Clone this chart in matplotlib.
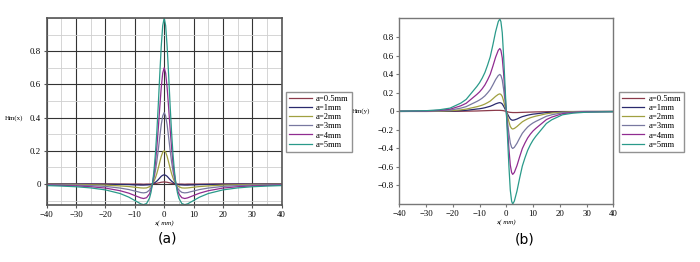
import numpy as np
import matplotlib
matplotlib.use('Agg')
import matplotlib.pyplot as plt
from matplotlib.ticker import MultipleLocator

plt.rcParams['font.family'] = 'Liberation Serif'

# Series labels and colours
labels = ['a=0.5mm', 'a=1mm', 'a=2mm', 'a=3mm', 'a=4mm', 'a=5mm']
colors = ['#8b3a4a', '#2a2a6e', '#a0a040', '#7878a0', '#902c90', '#2a9a8a']

# (a) Hm(x) sampled along x (mm)
xa = [-40, -35, -30, -25, -20, -15, -12, -10, -9, -8, -7, -6, -5, -4.5, -4, -3.5, -3, -2.5, -2, -1.5, -1, -0.5,
      0, 0.5, 1, 1.5, 2, 2.5, 3, 3.5, 4, 4.5, 5, 6, 7, 8, 9, 10, 12, 15, 20, 25, 30, 35, 40]
hx_05 = [0, 0, 0, 0, 0, -0.001, -0.001, -0.001, -0.001, -0.001, -0.002, -0.001, -0.001, -0.001, 0, 0.001, 0.002, 0.004, 0.006, 0.008, 0.010, 0.011,
         0.012, 0.011, 0.010, 0.008, 0.006, 0.004, 0.002, 0.001, 0, -0.001, -0.001, -0.001, -0.002, -0.001, -0.001, -0.001, -0.001, -0.001, 0, 0, 0, 0, 0]
hx_1 = [-0.001, -0.001, -0.001, -0.001, -0.002, -0.003, -0.004, -0.006, -0.006, -0.007, -0.007, -0.006, -0.005, -0.003, 0, 0.004, 0.010, 0.017, 0.026, 0.036, 0.046, 0.052,
        0.055, 0.052, 0.046, 0.036, 0.026, 0.017, 0.010, 0.004, 0, -0.003, -0.005, -0.006, -0.007, -0.007, -0.006, -0.006, -0.004, -0.003, -0.002, -0.001, -0.001, -0.001, -0.001]
hx_2 = [-0.002, -0.003, -0.003, -0.005, -0.007, -0.012, -0.016, -0.020, -0.022, -0.024, -0.025, -0.024, -0.017, -0.010, 0, 0.015, 0.036, 0.063, 0.096, 0.132, 0.166, 0.191,
        0.200, 0.191, 0.166, 0.132, 0.096, 0.063, 0.036, 0.015, 0, -0.010, -0.017, -0.024, -0.025, -0.024, -0.022, -0.020, -0.016, -0.012, -0.007, -0.005, -0.003, -0.003, -0.002]
hx_3 = [-0.004, -0.006, -0.007, -0.010, -0.015, -0.025, -0.034, -0.043, -0.047, -0.052, -0.054, -0.051, -0.037, -0.022, 0, 0.032, 0.077, 0.135, 0.206, 0.284, 0.357, 0.410,
        0.430, 0.410, 0.357, 0.284, 0.206, 0.135, 0.077, 0.032, 0, -0.022, -0.037, -0.051, -0.054, -0.052, -0.047, -0.043, -0.034, -0.025, -0.015, -0.010, -0.007, -0.006, -0.004]
hx_4 = [-0.007, -0.009, -0.012, -0.017, -0.025, -0.041, -0.056, -0.070, -0.077, -0.084, -0.088, -0.083, -0.060, -0.036, 0, 0.053, 0.125, 0.221, 0.336, 0.463, 0.581, 0.668,
        0.700, 0.668, 0.581, 0.463, 0.336, 0.221, 0.125, 0.053, 0, -0.036, -0.060, -0.083, -0.088, -0.084, -0.077, -0.070, -0.056, -0.041, -0.025, -0.017, -0.012, -0.009, -0.007]
hx_5 = [-0.010, -0.013, -0.017, -0.024, -0.036, -0.058, -0.080, -0.100, -0.110, -0.120, -0.125, -0.118, -0.086, -0.052, 0, 0.075, 0.179, 0.315, 0.480, 0.661, 0.830, 0.954,
        1.000, 0.954, 0.830, 0.661, 0.480, 0.315, 0.179, 0.075, 0, -0.052, -0.086, -0.118, -0.125, -0.120, -0.110, -0.100, -0.080, -0.058, -0.036, -0.024, -0.017, -0.013, -0.010]

# (b) Hm(y) sampled along x (mm)
xb = [-40, -35, -30, -25, -21, -17, -15, -13, -11, -10, -9, -8, -7, -6, -5, -4, -3, -2.4, -2, -1.5, -1, -0.5,
      0, 0.5, 1, 1.5, 2, 2.4, 3, 4, 5, 6, 7, 8, 9, 10, 11, 13, 15, 17, 21, 25, 30, 35, 40]
hy_05 = [0, 0, 0, 0.001, 0.001, 0.002, 0.003, 0.004, 0.005, 0.006, 0.007, 0.008, 0.009, 0.010, 0.011, 0.012, 0.012, 0.012, 0.011, 0.010, 0.008, 0.004,
         0, -0.004, -0.008, -0.010, -0.011, -0.012, -0.012, -0.012, -0.011, -0.010, -0.009, -0.008, -0.007, -0.006, -0.005, -0.004, -0.003, -0.002, -0.001, -0.001, 0, 0, 0]
hy_1 = [0, 0.001, 0.001, 0.002, 0.003, 0.009, 0.012, 0.019, 0.026, 0.029, 0.034, 0.040, 0.048, 0.056, 0.068, 0.082, 0.092, 0.095, 0.092, 0.081, 0.057, 0.029,
        0, -0.029, -0.057, -0.081, -0.092, -0.095, -0.092, -0.082, -0.068, -0.056, -0.048, -0.040, -0.034, -0.029, -0.026, -0.019, -0.012, -0.009, -0.003, -0.002, -0.001, -0.001, 0]
hy_2 = [0.001, 0.001, 0.002, 0.003, 0.007, 0.017, 0.025, 0.038, 0.051, 0.059, 0.068, 0.080, 0.095, 0.112, 0.137, 0.163, 0.184, 0.190, 0.184, 0.162, 0.114, 0.057,
        0, -0.057, -0.114, -0.162, -0.184, -0.190, -0.184, -0.163, -0.137, -0.112, -0.095, -0.080, -0.068, -0.059, -0.051, -0.038, -0.025, -0.017, -0.007, -0.003, -0.002, -0.001, -0.001]
hy_3 = [0.001, 0.002, 0.003, 0.007, 0.014, 0.036, 0.052, 0.080, 0.108, 0.124, 0.144, 0.168, 0.200, 0.236, 0.288, 0.344, 0.388, 0.400, 0.388, 0.340, 0.240, 0.120,
        0, -0.120, -0.240, -0.340, -0.388, -0.400, -0.388, -0.344, -0.288, -0.236, -0.200, -0.168, -0.144, -0.124, -0.108, -0.080, -0.052, -0.036, -0.014, -0.007, -0.003, -0.002, -0.001]
hy_4 = [0.002, 0.003, 0.005, 0.012, 0.024, 0.061, 0.088, 0.136, 0.184, 0.211, 0.245, 0.286, 0.340, 0.401, 0.490, 0.585, 0.660, 0.680, 0.660, 0.578, 0.408, 0.204,
        0, -0.204, -0.408, -0.578, -0.660, -0.680, -0.660, -0.585, -0.490, -0.401, -0.340, -0.286, -0.245, -0.211, -0.184, -0.136, -0.088, -0.061, -0.024, -0.012, -0.005, -0.003, -0.002]
hy_5 = [0.003, 0.005, 0.008, 0.018, 0.036, 0.090, 0.130, 0.200, 0.270, 0.310, 0.360, 0.420, 0.500, 0.590, 0.720, 0.860, 0.970, 1.000, 0.970, 0.850, 0.600, 0.300,
        0, -0.300, -0.600, -0.850, -0.970, -1.000, -0.970, -0.860, -0.720, -0.590, -0.500, -0.420, -0.360, -0.310, -0.270, -0.200, -0.130, -0.090, -0.036, -0.018, -0.008, -0.005, -0.003]

hx_all = [hx_05, hx_1, hx_2, hx_3, hx_4, hx_5]
hy_all = [hy_05, hy_1, hy_2, hy_3, hy_4, hy_5]

fig = plt.figure(figsize=(7, 2.62), dpi=100)

# ---- panel (a) ----
ax1 = fig.add_axes([0.0667, 0.2176, 0.3357, 0.7137])
for ys, c, lab in zip(hx_all, colors, labels):
    ax1.plot(xa, ys, color=c, lw=0.9, label=lab)
ax1.set_xlim(-40, 40)
ax1.set_ylim(-0.127, 1.0)
ax1.xaxis.set_major_locator(MultipleLocator(10))
ax1.xaxis.set_minor_locator(MultipleLocator(5))
ax1.set_yticks([0, 0.2, 0.4, 0.6, 0.8])
ax1.set_yticklabels(['0', '0.2', '0.4', '0.6', '0.8'])
ax1.yaxis.set_minor_locator(MultipleLocator(0.1))
ax1.grid(which='major', color='#333333', lw=0.8)
ax1.grid(which='minor', color='#cfcfcf', lw=0.6)
ax1.set_axisbelow(True)
for s in ax1.spines.values():
    s.set_color('#555555')
    s.set_linewidth(1.2)
ax1.tick_params(which='both', length=2, labelsize=6.3, pad=2, color='#555555')
ax1.tick_params(which='minor', length=0)
ax1.set_xlabel('x( mm)', fontsize=5, style='italic', labelpad=1)
ax1.text(-0.178, 0.465, 'Hm(x)', transform=ax1.transAxes, fontsize=5,
         ha='left', va='center')
fig.legend(*ax1.get_legend_handles_labels(), loc='upper left', bbox_to_anchor=(0.409, 0.648),
           fontsize=6.2, frameon=True, fancybox=False, edgecolor='#777777', handlelength=2.6,
           handletextpad=0.5, labelspacing=0.12, borderpad=0.35, borderaxespad=0)
fig.text(0.239, 0.09, '(a)', fontsize=10, family='DejaVu Sans', ha='center', va='center')

# ---- panel (b) ----
ax2 = fig.add_axes([0.5704, 0.2214, 0.3057, 0.71])
for ys, c, lab in zip(hy_all, colors, labels):
    ax2.plot(xb, ys, color=c, lw=0.9, label=lab)
ax2.set_xlim(-40, 40)
ax2.set_ylim(-1.0, 1.01)
ax2.xaxis.set_major_locator(MultipleLocator(10))
yt = [-0.8, -0.6, -0.4, -0.2, 0, 0.2, 0.4, 0.6, 0.8]
ax2.set_yticks(yt)
ax2.set_yticklabels(['\u22120.8', '\u22120.6', '\u22120.4', '\u22120.2', '0', '0.2', '0.4', '0.6', '0.8'])
for s in ax2.spines.values():
    s.set_color('#777777')
    s.set_linewidth(1.0)
ax2.tick_params(length=2, labelsize=6.3, pad=2, color='#777777')
ax2.set_xlabel('x( mm)', fontsize=5, style='italic', labelpad=1)
ax2.text(-0.22, 0.5, 'Hm(y)', transform=ax2.transAxes, fontsize=5, ha='left', va='center')
fig.legend(*ax2.get_legend_handles_labels(), loc='upper left', bbox_to_anchor=(0.884, 0.648),
           fontsize=6.2, frameon=True, fancybox=False, edgecolor='#777777', handlelength=2.6,
           handletextpad=0.5, labelspacing=0.12, borderpad=0.35, borderaxespad=0)
fig.text(0.75, 0.085, '(b)', fontsize=10, family='DejaVu Sans', ha='center', va='center')

fig.savefig('out.png', dpi=100)
